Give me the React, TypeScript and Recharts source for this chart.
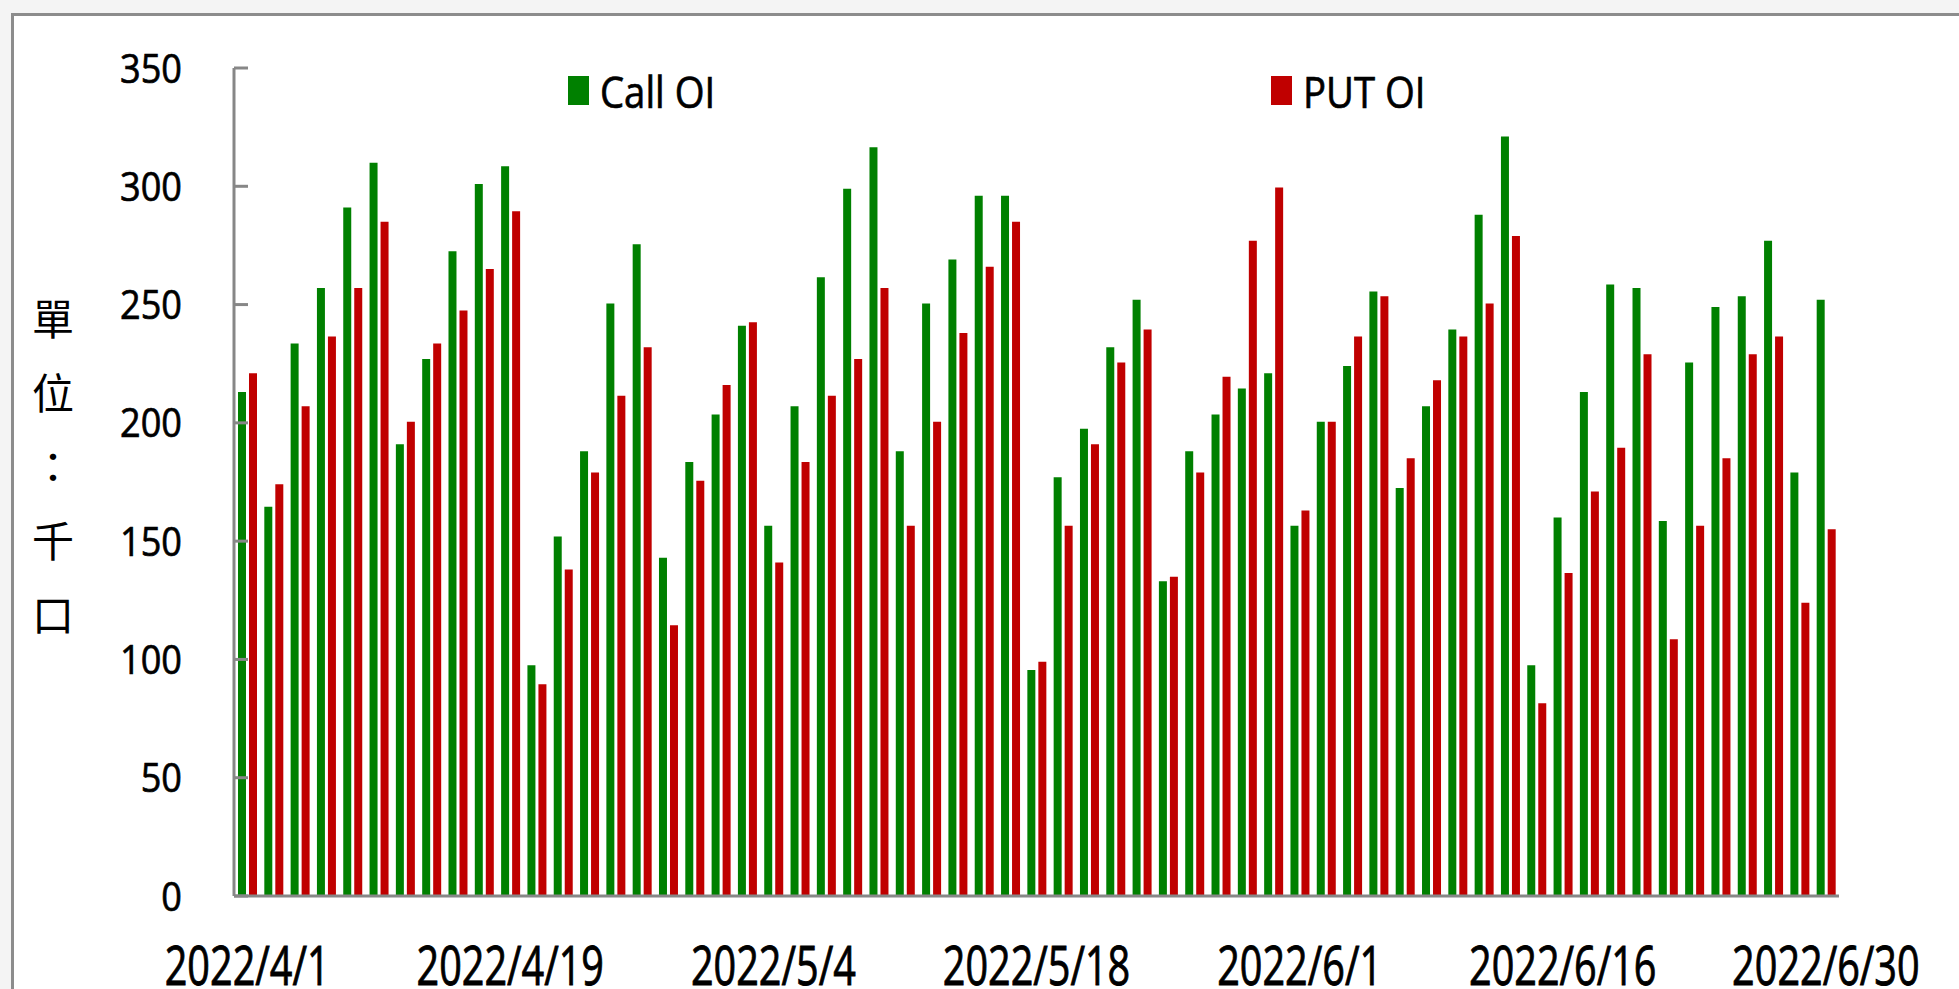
import React from "react";
import { BarChart, Bar, XAxis, YAxis } from "recharts";

const dates = [
  "2022/4/1", "2022/4/6", "2022/4/7", "2022/4/8", "2022/4/11", "2022/4/12", "2022/4/13",
  "2022/4/14", "2022/4/15", "2022/4/18", "2022/4/19", "2022/4/20", "2022/4/21", "2022/4/22",
  "2022/4/25", "2022/4/26", "2022/4/27", "2022/4/28", "2022/4/29", "2022/5/3", "2022/5/4",
  "2022/5/5", "2022/5/6", "2022/5/9", "2022/5/10", "2022/5/11", "2022/5/12", "2022/5/13",
  "2022/5/16", "2022/5/17", "2022/5/18", "2022/5/19", "2022/5/20", "2022/5/23", "2022/5/24",
  "2022/5/25", "2022/5/26", "2022/5/27", "2022/5/30", "2022/5/31", "2022/6/1", "2022/6/2",
  "2022/6/6", "2022/6/7", "2022/6/8", "2022/6/9", "2022/6/10", "2022/6/13", "2022/6/14",
  "2022/6/15", "2022/6/16", "2022/6/17", "2022/6/20", "2022/6/21", "2022/6/22", "2022/6/23",
  "2022/6/24", "2022/6/27", "2022/6/28", "2022/6/29", "2022/6/30",
];

// 單位：千口
const callOI = [
  213, 164.5, 233.5, 257, 291, 310, 191, 227, 272.5, 301, 308.5, 97.5, 152, 188, 250.5,
  275.5, 143, 183.5, 203.5, 241, 156.5, 207, 261.5, 299, 316.5, 188, 250.5, 269, 296, 296,
  95.5, 177, 197.5, 232, 252, 133, 188, 203.5, 214.5, 221, 156.5, 200.5, 224, 255.5, 172.5,
  207, 239.5, 288, 321, 97.5, 160, 213, 258.5, 257, 158.5, 225.5, 249, 253.5, 277, 179, 252,
];

const putOI = [
  221, 174, 207, 236.5, 257, 285, 200.5, 233.5, 247.5, 265, 289.5, 89.5, 138, 179, 211.5,
  232, 114.5, 175.5, 216, 242.5, 141, 183.5, 211.5, 227, 257, 156.5, 200.5, 238, 266, 285,
  99, 156.5, 191, 225.5, 239.5, 135, 179, 219.5, 277, 299.5, 163, 200.5, 236.5, 253.5, 185,
  218, 236.5, 250.5, 279, 81.5, 136.5, 171, 189.5, 229, 108.5, 156.5, 185, 229, 236.5, 124, 155,
];

const yTicks = [0, 50, 100, 150, 200, 250, 300, 350];
const titleChars = ["單", "位", "：", "千", "口"];

const GREEN = "#008000";
const RED = "#C00000";
const AXIS = "#878787";
const FONT = "'Open Sans', 'Noto Sans', sans-serif";

const data = dates.map((d, i) => ({ date: d, call: callOI[i], put: putOI[i] }));

const AXIS_X = 234;

function YTick(props: any) {
  const { y, payload } = props;
  return (
    <g>
      <line x1={AXIS_X} x2={AXIS_X + 14} y1={y} y2={y} stroke={AXIS} strokeWidth={3} />
      <text
        transform={`translate(182, ${y + 14.5}) scale(0.88, 1)`}
        textAnchor="end"
        fontFamily={FONT}
        fontSize={41}
        fill="#000"
        stroke="#000"
        strokeWidth={0.7}
      >
        {payload.value}
      </text>
    </g>
  );
}

function XTick(props: any) {
  const { x, payload } = props;
  return (
    <text
      transform={`translate(${x}, 985) scale(0.72, 1)`}
      textAnchor="middle"
      fontFamily={FONT}
      fontSize={55}
      fill="#000"
      stroke="#000"
      strokeWidth={0.9}
    >
      {payload.value}
    </text>
  );
}

function LegendItem({ left, color, label }: { left: number; color: string; label: string }) {
  return (
    <div style={{ position: "absolute", left, top: 76, height: 30 }}>
      <div style={{ position: "absolute", left: 0, top: 0, width: 21, height: 29, background: color }} />
      <div
        style={{
          position: "absolute",
          left: 32,
          top: -12,
          fontFamily: FONT,
          fontSize: 44,
          lineHeight: "54px",
          whiteSpace: "nowrap",
          transform: "scaleX(0.87)",
          transformOrigin: "left center",
          WebkitTextStroke: "0.7px #000",
        }}
      >
        {label}
      </div>
    </div>
  );
}

export default function App() {
  return (
    <div style={{ position: "relative", width: 1959, height: 989, overflow: "hidden", background: "#f4f4f4" }}>
      <style>{"body{margin:0}"}</style>
      <div
        style={{
          position: "absolute",
          left: 11,
          top: 13,
          width: 2100,
          height: 1100,
          background: "#fff",
          border: "3px solid #8c8c8c",
        }}
      />
      <div style={{ position: "absolute", left: 0, top: 0 }}>
        <BarChart
          width={1959}
          height={989}
          data={data}
          margin={{ top: 68, right: 120, bottom: 0, left: 0 }}
          barSize={8}
          barGap={3}
        >
          <XAxis
            dataKey="date"
            interval={9}
            height={93}
            tickLine={false}
            axisLine={{ stroke: AXIS, strokeWidth: 3 }}
            tick={<XTick />}
          />
          <YAxis
            width={AXIS_X}
            domain={[0, 350]}
            ticks={yTicks}
            tickLine={false}
            axisLine={{ stroke: AXIS, strokeWidth: 3 }}
            tick={<YTick />}
          />
          <Bar dataKey="call" name="Call OI" fill={GREEN} isAnimationActive={false} />
          <Bar dataKey="put" name="PUT OI" fill={RED} isAnimationActive={false} />
        </BarChart>
      </div>
      <LegendItem left={568} color={GREEN} label="Call OI" />
      <LegendItem left={1271} color={RED} label="PUT OI" />
      {titleChars.map((c, i) => (
        <div
          key={c}
          style={{
            position: "absolute",
            left: 31,
            top: 291 + i * 74,
            width: 44,
            textAlign: "center",
            fontFamily: "'Noto Sans CJK TC', sans-serif",
            fontSize: 42,
            lineHeight: "52px",
          }}
        >
          {c}
        </div>
      ))}
    </div>
  );
}
